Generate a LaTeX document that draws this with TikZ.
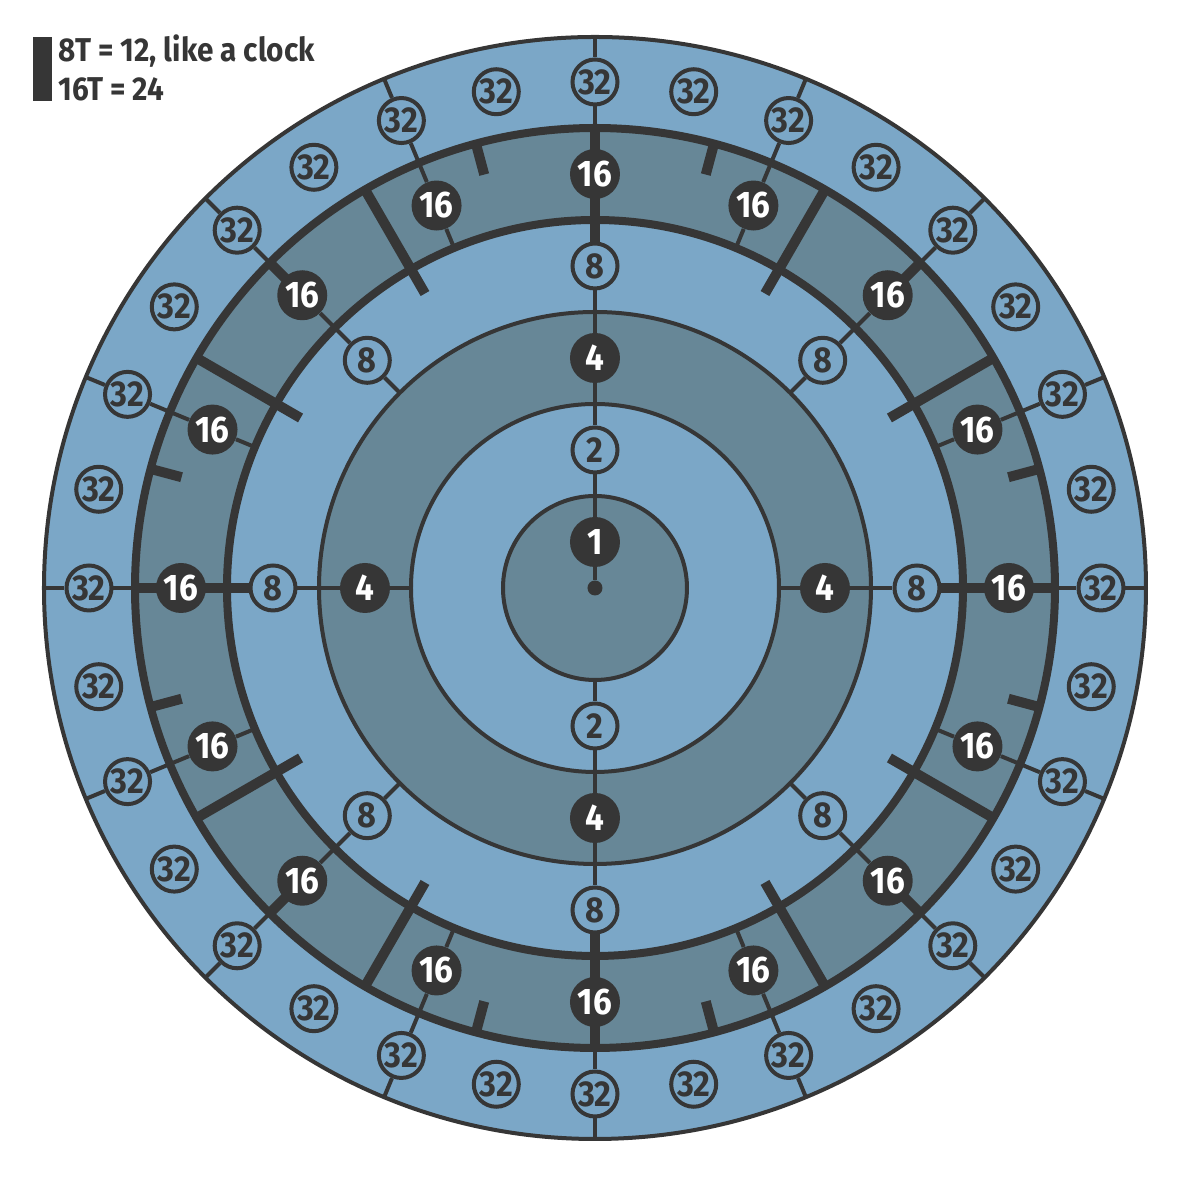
\documentclass[tikz,border=0pt]{standalone}
\usepackage{fontspec}
\setmainfont{Fira Sans}[FakeStretch=0.9]
\usetikzlibrary{positioning}
\definecolor{ringlt}{HTML}{7BA7C7}
\definecolor{ringdk}{HTML}{678797}
\definecolor{ink}{HTML}{363636}
\tikzset{
  dk/.style      ={circle, fill=ink, text=white, minimum size=25pt, inner sep=0pt, font=\bfseries\fontsize{18.5}{18.5}\selectfont},
  lt/.style      ={circle, draw=ink, line width=2pt, fill=ringlt, text=ink, minimum size=22.5pt, inner sep=0pt, font=\bfseries\fontsize{18}{18}\selectfont},
  dot/.style     ={circle, fill=ink, minimum size=7.5pt, inner sep=0pt},
  link/.style    ={draw=ink, line width=2pt},
  band/.style    ={draw=ink, line width=4pt},
  hourtick/.style={draw=ink, line width=5pt},
  halftick/.style={draw=ink, line width=5pt},
  legend/.style  ={text=ink, inner sep=0pt, font=\bfseries\fontsize{16.5}{16.5}\selectfont}
}

\begin{document}
\begin{tikzpicture}[x=0.5pt, y=0.5pt]
\useasboundingbox (-595,-598) rectangle (601,588);
\fill[ringlt] (0,0) circle (551);
\fill[ringdk] (0,0) circle (460);
\fill[ringlt] (0,0) circle (368);
\fill[ringdk] (0,0) circle (276);
\fill[ringlt] (0,0) circle (184);
\fill[ringdk] (0,0) circle (92);
\foreach \r in {92,184,276,551}
  \draw[link] (0,0) circle (\r);
\foreach \r in {368,460}
  \draw[band] (0,0) circle (\r);
\foreach \a in {0,30,...,330}
  \draw[hourtick] (\a:340) -- (\a:460);
\foreach \a in {15,45,...,345}
  \draw[halftick] (\a:428) -- (\a:460);

\node[dot] (ctr) at (0,0) {};
\foreach \L/\r/\s in {1/46/dk, 2/138/lt, 4/230/dk, 8/322/lt, 16/414/dk, 32/506/lt} {
  \pgfmathtruncatemacro\n{\L-1}
  \foreach \k in {0,...,\n}
    \node[\s] (n\L-\k) at ({90-\k*360/\L}:\r) {\L};
}

\draw[link] (ctr) -- (n1-0);
\foreach \L in {1,2,4,8,16} {
  \pgfmathtruncatemacro\n{\L-1}
  \pgfmathtruncatemacro\M{2*\L}
  \foreach \k in {0,...,\n} {
    \pgfmathtruncatemacro\j{2*\k}
    \draw[link] (n\L-\k) -- (n\M-\j);
  }
}
\foreach \L/\b in {2/92, 4/184, 8/276, 16/368} {
  \pgfmathtruncatemacro\n{\L/2-1}
  \foreach \i in {0,...,\n} {
    \pgfmathtruncatemacro\k{2*\i+1}
    \coordinate (b\L-\k) at ({90-\k*360/\L}:\b);
    \draw[link] (b\L-\k) -- (n\L-\k);
  }
}
\foreach \k in {0,...,15} {
  \pgfmathtruncatemacro\j{2*\k}
  \coordinate (rim-\k) at ({90-\k*22.5}:551);
  \draw[link] (n32-\j) -- (rim-\k);
}

\fill[ink] (-562,487) rectangle (-543,551);
\node[legend, anchor=base west] (key1) at (-537,526) {8T = 12, like a clock};
\node[legend, anchor=base west] (key2) at (-537,487) {16T = 24};
\end{tikzpicture}
\end{document}
